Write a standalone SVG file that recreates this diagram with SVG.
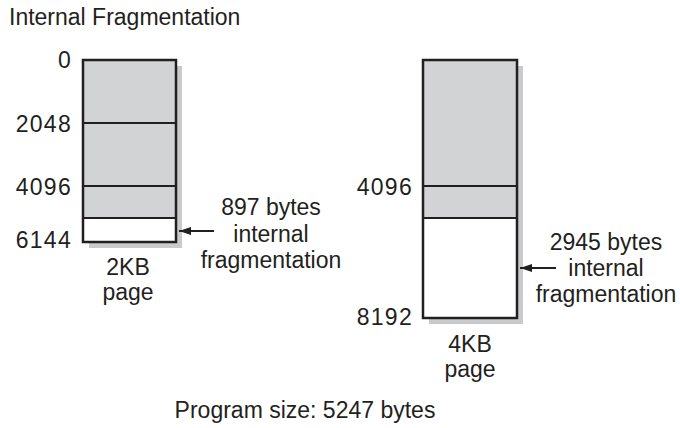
<svg xmlns="http://www.w3.org/2000/svg" width="680" height="428" viewBox="0 0 680 428">
<defs>
<style>
text{font-family:"Liberation Sans",Arial,sans-serif;fill:#231f20;font-size:23px}
.r{text-anchor:end}
.m{text-anchor:middle}
.n{letter-spacing:1.3px}
.box{stroke:#231f20;stroke-width:2.5}
.div{stroke:#231f20;stroke-width:2.2}
.sh{fill:#c9cacb}
.fill{fill:#d1d3d4}
.conn{stroke:#231f20;stroke-width:2;fill:none}
</style>
<marker id="ah" markerWidth="12" markerHeight="10" refX="12" refY="5" orient="auto" markerUnits="userSpaceOnUse">
<path d="M0,1 L12,5 L0,9 Z" fill="#231f20"/>
</marker>
</defs>
<rect width="680" height="428" fill="#ffffff"/>
<text x="9" y="25" font-size="22.5">Internal Fragmentation</text>

<g id="page2kb">
<rect class="sh" x="89" y="66" width="93" height="182"/>
<rect class="fill" x="83" y="60" width="93" height="158"/>
<rect x="83" y="218" width="93" height="24" fill="#ffffff"/>
<rect class="box" x="83" y="60" width="93" height="182" fill="none"/>
<line class="div" x1="83" y1="123" x2="176" y2="123"/>
<line class="div" x1="83" y1="186" x2="176" y2="186"/>
<line class="div" x1="83" y1="218" x2="176" y2="218"/>
<text class="r n" x="72" y="68">0</text>
<text class="r n" x="72" y="132">2048</text>
<text class="r n" x="72" y="195">4096</text>
<text class="r n" x="72" y="248">6144</text>
<text class="m" x="128" y="275">2KB</text>
<text class="m" x="128" y="300">page</text>
</g>

<g id="label897">
<text class="m" x="271" y="215" font-size="24">897 bytes</text>
<text class="m" x="271" y="242" font-size="24">internal</text>
<text class="m" x="271" y="268" font-size="24">fragmentation</text>
</g>

<g id="page4kb">
<rect class="sh" x="429" y="66" width="94" height="258"/>
<rect class="fill" x="423" y="60" width="94" height="158"/>
<rect x="423" y="218" width="94" height="100" fill="#ffffff"/>
<rect class="box" x="423" y="60" width="94" height="258" fill="none"/>
<line class="div" x1="423" y1="186" x2="517" y2="186"/>
<line class="div" x1="423" y1="218" x2="517" y2="218"/>
<text class="r n" x="413" y="195">4096</text>
<text class="r n" x="413" y="325">8192</text>
<text class="m" x="470" y="352">4KB</text>
<text class="m" x="470" y="377">page</text>
</g>

<g id="label2945">
<text class="m" x="606" y="250" font-size="24">2945 bytes</text>
<text class="m" x="606" y="276" font-size="24">internal</text>
<text class="m" x="606" y="302" font-size="24">fragmentation</text>
</g>

<g id="connectors">
<line class="conn" x1="214" y1="231" x2="179" y2="231" marker-end="url(#ah)"/>
<line class="conn" x1="556" y1="268" x2="520" y2="268" marker-end="url(#ah)"/>
</g>

<text class="m" x="305" y="418">Program size: 5247 bytes</text>
</svg>
